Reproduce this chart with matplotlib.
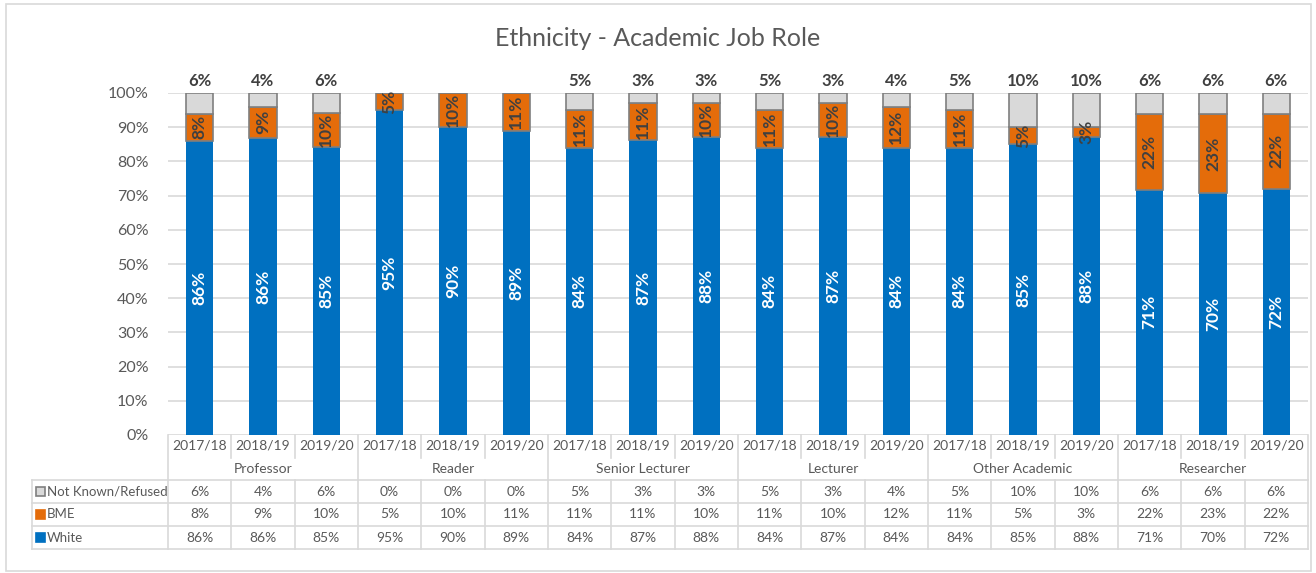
import numpy as np
import matplotlib
matplotlib.use('Agg')
from matplotlib import pyplot as plt
from matplotlib.patches import Rectangle
from matplotlib.lines import Line2D
from matplotlib.transforms import blended_transform_factory

plt.rcParams['font.family'] = ['Lato', 'DejaVu Sans']

# Данные

roles = ['Professor', 'Reader', 'Senior Lecturer', 'Lecturer', 'Other Academic', 'Researcher']
years = ['2017/18', '2018/19', '2019/20']

white = [86, 86, 85, 95, 90, 89, 84, 87, 88, 84, 87, 84, 84, 85, 88, 71, 70, 72]
bme = [8, 9, 10, 5, 10, 11, 11, 11, 10, 11, 10, 12, 11, 5, 3, 22, 23, 22]
unknown = [6, 4, 6, 0, 0, 0, 5, 3, 3, 5, 3, 4, 5, 10, 10, 6, 6, 6]

series = ['Not Known/Refused', 'BME', 'White']

# Цвета

BLUE = '#0070C0'
ORANGE = '#E46C0A'
LGREY = '#D9D9D9'
EDGE = '#7F7F7F'
TXT = '#595959'
DARK = '#404040'

W, H = 1316, 573


def fy(py):
    # пиксели сверху -> доля фигуры
    return 1 - py / H


def fx(px):
    return px / W


fig = plt.figure(figsize=(W / 100, H / 100), dpi=100)

# Рамка диаграммы
fig.add_artist(Rectangle((fx(6), fy(571)), fx(1305), 567 / H, transform=fig.transFigure,
                         fill=False, edgecolor=LGREY, lw=1.2))

ax = fig.add_axes([fx(168), fy(435), fx(1308 - 168), (435 - 93) / H])

n = len(white)
x = np.arange(n)
w = np.array(white, dtype=float)
b = np.array(bme, dtype=float)
u = np.array(unknown, dtype=float)

# 100% stacked: каждая колонка приводится к сумме 100
tot = w + b + u
wn, bn, un = 100 * w / tot, 100 * b / tot, 100 * u / tot

ax.bar(x, wn, width=0.43, color=BLUE, zorder=3)
ax.bar(x, bn, bottom=wn, width=0.43, color=ORANGE, edgecolor=EDGE, lw=1.2, zorder=3)
ax.bar(x, un, bottom=wn + bn, width=0.43, color=LGREY, edgecolor=EDGE, lw=1.2, zorder=3)

# Подписи значений

for i in range(n):
    ax.text(x[i], wn[i] / 2, f'{white[i]}%', rotation=90, ha='center', va='center',
            color='white', fontsize=12.5, fontweight='bold', zorder=4)
    ax.text(x[i], wn[i] + bn[i] / 2, f'{bme[i]}%', rotation=90, ha='center', va='center',
            color=DARK, fontsize=12.5, fontweight='bold', zorder=4)
    if unknown[i] > 0:
        ax.text(x[i], 101.2, f'{unknown[i]}%', ha='center', va='bottom',
                color=DARK, fontsize=12, fontweight='bold', zorder=4)

ax.set_xlim(-0.5, n - 0.5)
ax.set_ylim(0, 100)
ax.set_yticks(np.arange(0, 101, 10))
ax.set_yticklabels([f'{t}%' for t in range(0, 101, 10)])
ax.tick_params(axis='y', length=0, labelsize=11.5, labelcolor=TXT, pad=14)
ax.set_xticks([])
ax.grid(axis='y', color=LGREY, lw=1.2, zorder=0)
ax.set_axisbelow(True)
for s in ax.spines.values():
    s.set_visible(False)

fig.text(0.5, fy(38), 'Ethnicity - Academic Job Role', ha='center', va='center',
         fontsize=18, color=TXT)

# Таблица под осью

tr = blended_transform_factory(ax.transData, fig.transFigure)
line_kw = dict(color=LGREY, lw=1.2, transform=tr, clip_on=False)

# Годы и должности
for i in range(n):
    ax.text(x[i], fy(446), years[i % 3], transform=tr, ha='center', va='center',
            fontsize=10, color=TXT)
    if i % 3 != 2:
        ax.add_line(Line2D([i + 0.5, i + 0.5], [fy(435), fy(458)], **line_kw))
for g, role in enumerate(roles):
    ax.text(3 * g + 1, fy(469), role, transform=tr, ha='center', va='center',
            fontsize=10, color=TXT)
for g in range(len(roles) + 1):
    ax.add_line(Line2D([3 * g - 0.5, 3 * g - 0.5], [fy(435), fy(480)], **line_kw))

# Строки значений
rows_y = [491.5, 514.5, 537.5]
row_vals = [unknown, bme, white]
for ry, vals in zip(rows_y, row_vals):
    for i in range(n):
        ax.text(x[i], fy(ry), f'{vals[i]}%', transform=tr, ha='center', va='center',
                fontsize=10, color=TXT)

left = (fx(32) - ax.get_position().x0) / ax.get_position().width * n - 0.5
for py in [480, 503, 526, 549]:
    ax.add_line(Line2D([left, n - 0.5], [fy(py), fy(py)], **line_kw))
for xv in [left] + list(np.arange(-0.5, n, 1.0)):
    ax.add_line(Line2D([xv, xv], [fy(480), fy(549)], **line_kw))

# Легенда в таблице
colors = [(LGREY, EDGE), (ORANGE, ORANGE), (BLUE, BLUE)]
for ry, name, (fc, ec) in zip(rows_y, series, colors):
    fig.add_artist(Rectangle((fx(36), fy(ry + 4.5)), fx(9), 9 / H, transform=fig.transFigure,
                             facecolor=fc, edgecolor=ec, lw=1.2))
    fig.text(fx(47), fy(ry), name, ha='left', va='center', fontsize=9.5, color=TXT)

fig.savefig('out.png', dpi=100)
